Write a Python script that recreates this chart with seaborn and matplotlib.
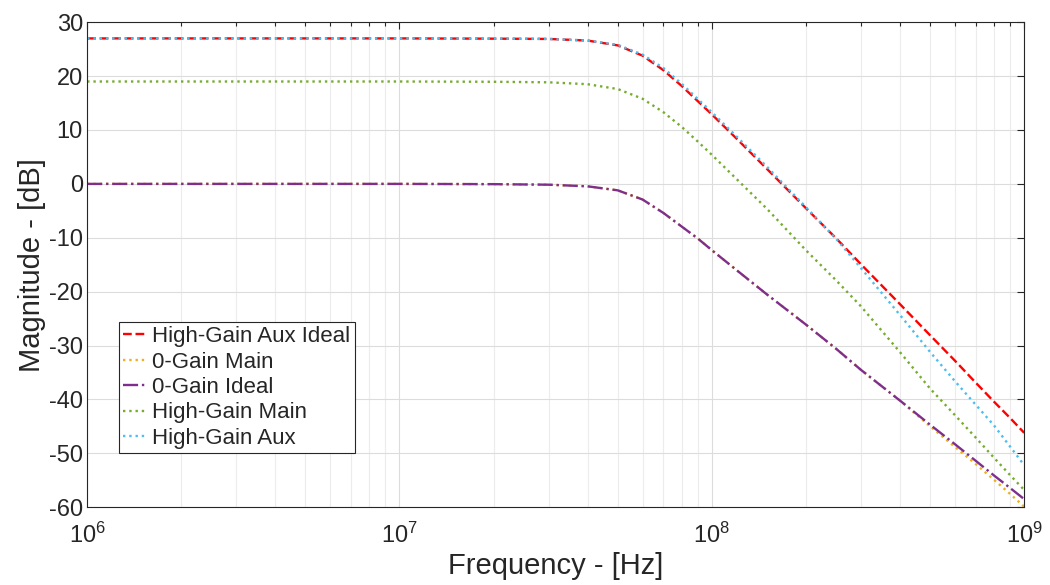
import numpy as np
import pandas as pd
import matplotlib
matplotlib.use("Agg")
import matplotlib.pyplot as plt
import seaborn as sns
from matplotlib.ticker import LogLocator, NullFormatter, LogFormatterMathtext

# ---- data ----
freq_hz = [1e6, 1e7, 2e7, 3e7, 4e7, 5e7, 6e7, 7e7, 8e7, 9e7, 1e8, 1.2e8, 1.5e8,
           2e8, 2.5e8, 3e8, 4e8, 5e8, 6e8, 7e8, 8e8, 9e8, 1e9]

hg_aux_ideal_db = [27.0, 27.0, 26.95, 26.9, 26.6, 25.7, 23.8, 21.1, 18.2, 15.4, 12.9,
                   8.4, 2.8, -4.5, -10.1, -14.9, -22.3, -28.1, -32.8, -36.9, -40.4,
                   -43.4, -46.2]
zg_main_db = [0.0, 0.0, -0.05, -0.15, -0.45, -1.2, -2.9, -5.4, -7.9, -10.1, -12.3,
              -16.0, -20.5, -26.1, -30.6, -34.5, -40.2, -45.0, -48.8, -52.0, -54.9,
              -57.5, -59.9]
zg_ideal_db = [0.0, 0.0, -0.05, -0.15, -0.45, -1.2, -2.9, -5.4, -7.9, -10.1, -12.3,
               -16.0, -20.5, -26.1, -30.6, -34.5, -40.2, -44.7, -48.3, -51.4, -54.1,
               -56.4, -58.5]
hg_main_db = [19.0, 19.0, 18.95, 18.85, 18.5, 17.6, 15.8, 13.3, 10.6, 7.9, 5.4,
              0.9, -4.6, -12.3, -17.9, -22.7, -31.2, -38.0, -42.9, -47.1, -50.8,
              -54.0, -56.8]
hg_aux_db = [27.0, 27.0, 26.95, 26.9, 26.6, 25.8, 24.0, 21.5, 18.6, 15.8, 13.3,
             8.8, 3.2, -4.3, -10.2, -15.6, -24.3, -31.2, -36.6, -41.0, -44.8,
             -48.7, -52.2]

series_names = ["High-Gain Aux Ideal", "0-Gain Main", "0-Gain Ideal",
                "High-Gain Main", "High-Gain Aux"]
series_values = [hg_aux_ideal_db, zg_main_db, zg_ideal_db, hg_main_db, hg_aux_db]

x_ticks = [1e6, 1e7, 1e8, 1e9]
y_ticks = [-60, -50, -40, -30, -20, -10, 0, 10, 20, 30]

# ---- styles ----
colors = ["#FF0000", "#EDB120", "#7E2F8E", "#77AC30", "#4DBEEE"]
styles = ["--", ":", "-.", ":", ":"]

rows = []
for name, vals in zip(series_names, series_values):
    for f, v in zip(freq_hz, vals):
        rows.append({"series": name, "freq": f, "db": v})
df = pd.DataFrame(rows)

sns.set_theme(style="white")
plt.rcParams["font.family"] = ["Liberation Sans", "DejaVu Sans"]
plt.rcParams["mathtext.fontset"] = "custom"
plt.rcParams["mathtext.rm"] = "Liberation Sans"
plt.rcParams["mathtext.it"] = "Liberation Sans:italic"
plt.rcParams["mathtext.bf"] = "Liberation Sans:bold"
plt.rcParams["axes.unicode_minus"] = False

fig = plt.figure(figsize=(10.5, 5.85), dpi=100)
ax = fig.add_axes([0.083, 0.133, 0.8924, 0.829])

for name, c, ls in zip(series_names, colors, styles):
    sub = df[df["series"] == name]
    sns.lineplot(data=sub, x="freq", y="db", ax=ax, color=c, linestyle=ls,
                 linewidth=1.7, label=name, estimator=None, sort=True)

ax.set_xscale("log")
ax.set_xlim(1e6, 1e9)
ax.set_ylim(-60, 30)
ax.set_xticks(x_ticks)
ax.xaxis.set_major_formatter(LogFormatterMathtext())
ax.xaxis.set_minor_locator(LogLocator(base=10, subs=np.arange(2, 10)))
ax.xaxis.set_minor_formatter(NullFormatter())
ax.set_yticks(y_ticks)

ax.grid(which="major", color="#dcdcdc", linewidth=0.8)
ax.grid(which="minor", axis="x", color="#ececec", linewidth=0.8)
ax.set_axisbelow(True)

spine_c = "#262626"
for s in ax.spines.values():
    s.set_color(spine_c)
    s.set_linewidth(0.8)
ax.tick_params(which="both", direction="in", top=True, right=True,
               color=spine_c, labelcolor=spine_c, width=0.8)
ax.tick_params(which="major", length=5, labelsize=17)
ax.tick_params(axis="y", which="major", pad=3)
ax.tick_params(axis="x", which="major", pad=11)
ax.tick_params(which="minor", length=3)

ax.set_xlabel("Frequency - [Hz]", fontsize=21, color=spine_c, labelpad=3)
ax.set_ylabel("Magnitude - [dB]", fontsize=21, color=spine_c, labelpad=2)

leg = ax.legend(loc="lower left", bbox_to_anchor=(0.034, 0.111), frameon=True,
                fancybox=False, edgecolor=spine_c, framealpha=1, fontsize=16,
                handlelength=1.1, handletextpad=0.2, borderpad=0.2,
                labelspacing=0.2, borderaxespad=0)
leg.get_frame().set_linewidth(0.8)
for t in leg.get_texts():
    t.set_color(spine_c)

fig.savefig("out.png", dpi=100)
